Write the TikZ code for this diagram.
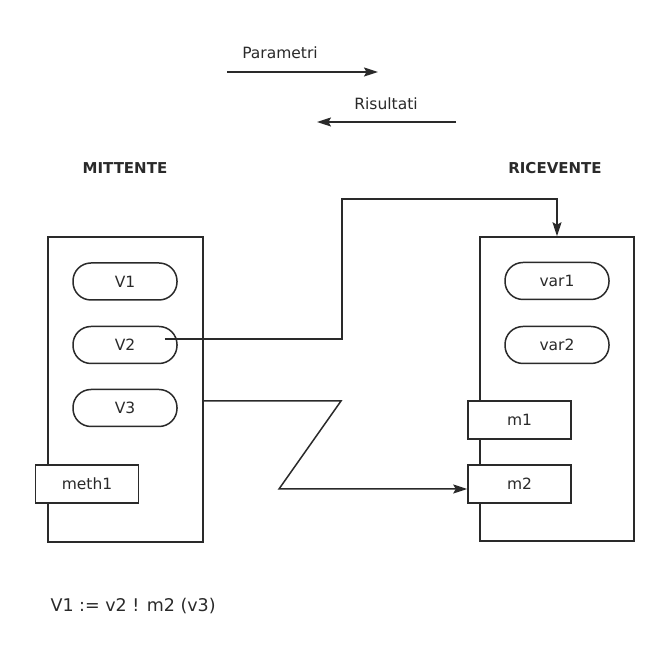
\documentclass[tikz,border=0pt]{standalone}
\usepackage{fontspec}
\setmainfont{DejaVu Sans}
\usetikzlibrary{arrows.meta,calc}
\definecolor{ink}{HTML}{2A2A2A}
\tikzset{
  every node/.style={font=\fontsize{15.5}{18}\selectfont, text=ink},
  line/.style={draw=ink, line width=1.5pt},
  arr/.style={line, -{Stealth[length=14pt,width=9pt,inset=2.5pt]}},
  oval/.style={line, rounded corners=18pt, minimum width=104pt, minimum height=37pt, inner sep=0pt},
  meth/.style={line, fill=white, minimum width=103pt, minimum height=38pt, inner sep=0pt},
  obj/.style={line, inner sep=0pt},
  title/.style={font=\fontsize{15}{18}\selectfont\bfseries},
}
\begin{document}
\begin{tikzpicture}[x=1pt,y=1pt]
\useasboundingbox (0,0) rectangle (650,661);
\fill[white] (0,0) rectangle (650,661);
% legend arrows
\node (par) at (280,608) {Parametri};
\coordinate (p1) at (227,589);
\coordinate (p2) at (378,589);
\draw[arr] (p1) -- (p2);
\node (ris) at (386,557) {Risultati};
\coordinate (r1) at (456,539);
\coordinate (r2) at (317,539);
\draw[arr] (r1) -- (r2);
% titles
\node[title] (mt) at (125,493) {MITTENTE};
\node[title] (rt) at (555,493) {RICEVENTE};
% object boxes
\node[obj, minimum width=155pt, minimum height=305pt] (L) at (125.5,271.5) {};
\node[obj, minimum width=154pt, minimum height=304pt] (R) at (557,272) {};
% variables
\node[oval] (V1) at (125,379.5) {V1};
\node[oval] (V2) at (125,316) {V2};
\node[oval] (V3) at (125,253) {V3};
\node[oval] (var1) at (557,380) {var1};
\node[oval] (var2) at (557,316) {var2};
% methods
\node[meth] (meth1) at (87,177) {meth1};
\node[meth] (m1) at (519.5,241) {m1};
\node[meth] (m2) at (519.5,177) {m2};
% connectors
\coordinate (v2s) at ($(V2.east)+(-13,6)$);
\coordinate (c1) at (342,322);
\coordinate (c2) at (342,462);
\coordinate (c3) at (557,462);
\draw[arr] (v2s) -- (c1) -- (c2) -- (c3) -- (var1 |- R.north);
\coordinate (v3s) at ($(L.east |- V3)+(0,7)$);
\coordinate (z1) at (341,260);
\coordinate (z2) at (279,172);
\draw[arr] (v3s) -- (z1) -- (z2) -- (z2 -| m2.west);
% formula
\node[anchor=west, font=\fontsize{17.5}{20}\selectfont] (f) at (47,55) {V1 := v2 ! m2 (v3)};
\end{tikzpicture}
\end{document}
